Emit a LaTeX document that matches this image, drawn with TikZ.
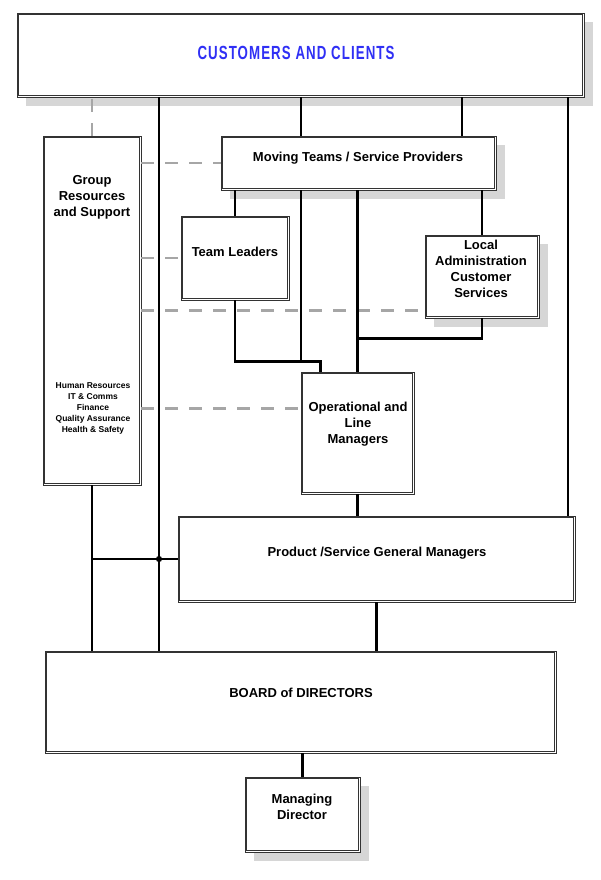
\documentclass[tikz,border=0pt]{standalone}
\usepackage{fontspec}
\setmainfont{Liberation Sans}
\usetikzlibrary{shapes,shadows}
\definecolor{custblue}{RGB}{48,48,245}

\begin{document}
\begin{tikzpicture}[x=1pt, y=-1pt,
    box/.style={rectangle, draw=black!80, line width=0.9pt, fill=white, inner sep=0pt},
    inbox/.style={draw=black!80, line width=0.9pt},
    boxshadow/.style={drop shadow={shadow xshift=9pt, shadow yshift=-9pt, fill=black!16, opacity=1}},
    txt/.style={align=center, font=\fontsize{13}{16}\selectfont\bfseries},
    listtxt/.style={align=center, font=\fontsize{8.5}{11}\selectfont\bfseries},
    link/.style={line width=2.5pt, black},
    hint/.style={line width=2.5pt, black!35, dash pattern=on 13pt off 11pt}]

    \path [use as bounding box, fill=white] (0,0) rectangle (600,880);

    % boxes
    \node (cust) [box, boxshadow, minimum width=567pt, minimum height=84pt] at (300.5,55) {};
    \node (grp) [box, minimum width=98pt, minimum height=349pt] at (92,310.5) {};
    \node (move) [box, boxshadow, minimum width=275pt, minimum height=54pt] at (358.5,163) {};
    \node (lead) [box, minimum width=108pt, minimum height=84pt] at (235,258) {};
    \node (local) [box, boxshadow, minimum width=114pt, minimum height=83pt] at (482,276.5) {};
    \node (oper) [box, minimum width=113pt, minimum height=122pt] at (357.5,433) {};
    \node (prod) [box, minimum width=397pt, minimum height=86pt] at (376.5,559) {};
    \node (board) [box, minimum width=511pt, minimum height=102pt] at (300.5,702) {};
    \node (md) [box, boxshadow, minimum width=115pt, minimum height=75pt] at (302.5,814.5) {};

    % inner border of every box
    \foreach \b in {cust,grp,move,lead,local,oper,prod,board,md}
        \draw [inbox] ([shift={(2.2pt,-2.2pt)}]\b.north west) rectangle ([shift={(-2.2pt,2.2pt)}]\b.south east);

    % texts
    \node (custT) [font=\fontsize{19}{22}\selectfont\bfseries, text=custblue] at (296,53)
        {\scalebox{0.7}[1]{\addfontfeature{LetterSpace=8}CUSTOMERS AND CLIENTS}};
    \node (grpT) [txt] at (92,197) {Group\\Resources\\and Support};
    \node (grpL) [listtxt] at (93,408) {Human Resources\\IT \& Comms\\Finance\\Quality Assurance\\Health \& Safety};
    \node (moveT) [txt] at (358,158) {Moving Teams / Service Providers};
    \node (leadT) [txt] at (235,252) {Team Leaders};
    \node (locT) [txt] at (481,269) {Local\\Administration\\Customer\\Services};
    \node (opT) [txt] at (358,424) {Operational and\\Line\\Managers};
    \node (prodT) [txt] at (377,553) {Product /Service General Managers};
    \node (boardT) [txt] at (301,693) {BOARD of DIRECTORS};
    \node (mdT) [txt] at (302,807) {Managing\\Director};

    % bus lines and junctions
    \coordinate (busA) at (159,0);
    \coordinate (busB) at (301,0);
    \coordinate (busC) at (462,0);
    \coordinate (busD) at (568,0);
    \coordinate (opL) at ([xshift=20pt]oper.north west);
    \coordinate (opJ) at ([yshift=10pt]opL);
    \coordinate (locJ) at ([yshift=-20pt]local.south);
    \coordinate (locW) at ([yshift=8pt]local.south west);
    \coordinate (opW) at ([yshift=-37pt]oper.north west);

    % dashed support lines
    \draw [hint] (grp.north) -- (grp.north |- cust.south);
    \draw [hint] (grp.east |- move.west) -- (move.west);
    \draw [hint] (grp.east |- lead.west) -- (lead.west);
    \draw [hint] (grp.east |- locW) -- (locW);
    \draw [hint] (grp.east |- opW) -- (opW);

    % reporting lines
    \draw [link] (cust.south -| busA) -- (board.north -| busA);
    \draw [link] (cust.south -| busB) -- (move.north -| busB);
    \draw [link] (cust.south -| busC) -- (move.north -| busC);
    \draw [link] (cust.south -| busD) -- (prod.north -| busD);
    \draw [link] (lead.north |- move.south) -- (lead.north);
    \draw [link] (move.south -| busB) -- (busB |- opJ);
    \draw [link] (lead.south) |- (opJ) -- (opL);
    \draw [link] (oper.north |- move.south) -- (oper.north);
    \draw [link] (local.north |- move.south) -- (local.north);
    \draw [link] (local.south) |- (oper.north |- locJ);
    \draw [link] (oper.south) -- (oper.south |- prod.north);
    \draw [link] (grp.south) -- (grp.south |- board.north);
    \draw [link] (prod.west) -- (prod.west -| grp.south);
    \draw [link] (prod.south) -- (prod.south |- board.north);
    \draw [link] (md.north) -- (md.north |- board.south);
    \node (dot) [circle, fill, inner sep=2.2pt] at (prod.west -| busA) {};
\end{tikzpicture}
\end{document}
